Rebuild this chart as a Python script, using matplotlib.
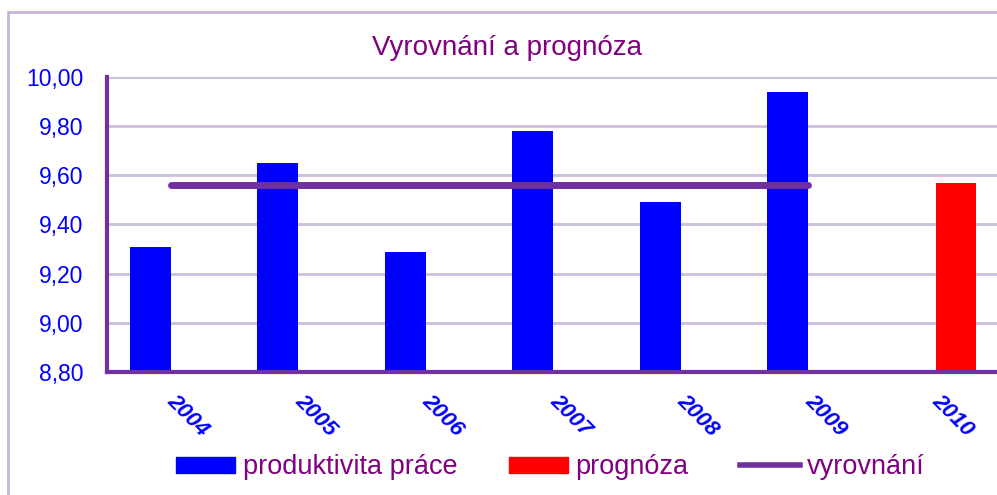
import matplotlib.pyplot as plt
import numpy as np
from matplotlib.patches import Patch, Rectangle
from matplotlib.lines import Line2D

roky = ['2004', '2005', '2006', '2007', '2008', '2009', '2010']
produktivita = [9.31, 9.65, 9.29, 9.78, 9.49, 9.94, None]
prognoza = [None, None, None, None, None, None, 9.57]
vyrovnani = [9.56, 9.56, 9.56, 9.56, 9.56, 9.56, None]
y_ticks = [8.80, 9.00, 9.20, 9.40, 9.60, 9.80, 10.00]

BLUE = '#0000ff'
RED = '#ff0000'
PURPLE = '#7030a0'
TEXT_PURPLE = '#800080'
GRID = '#cbbfdc'


def main() -> None:
    plt.rcParams['font.family'] = ['Liberation Sans', 'DejaVu Sans']
    fig = plt.figure(figsize=(9.97, 4.95), dpi=100)
    ax = fig.add_axes([0.1073, 0.2485, 0.895, 0.596])

    # ramecek kolem grafu
    fig.patches.append(Rectangle((8 / 997, -0.1), 1.2, (495 - 12) / 495 + 0.1,
                                 transform=fig.transFigure, fill=False,
                                 edgecolor='#c4b4d6', lw=2))

    x = np.arange(len(roky))
    w = 0.32
    px = [i for i, v in enumerate(produktivita) if v is not None]
    ax.bar(x[px] - w / 2, [produktivita[i] - 8.8 for i in px], width=w,
           bottom=8.8, color=BLUE, zorder=3)
    pr = [i for i, v in enumerate(prognoza) if v is not None]
    ax.bar(x[pr] + w / 2, [prognoza[i] - 8.8 for i in pr], width=w,
           bottom=8.8, color=RED, zorder=3)
    vx = [i for i, v in enumerate(vyrovnani) if v is not None]
    ax.plot(x[vx], [vyrovnani[i] for i in vx], color=PURPLE, lw=5,
            solid_capstyle='round', zorder=4)

    ax.set_xlim(-0.5, 6.5)
    ax.set_ylim(8.8, 10.0)
    ax.set_yticks(y_ticks)
    ax.set_yticklabels([f'{v:.2f}'.replace('.', ',') for v in y_ticks],
                       color=BLUE, fontsize=16.5)
    ax.set_xticks(x)
    ax.set_xticklabels(roky, rotation=-45, ha='left', va='center',
                       rotation_mode='anchor', color=BLUE, fontsize=16,
                       fontweight='bold', fontstyle='italic')
    ax.tick_params(axis='y', length=0, pad=17)
    ax.tick_params(axis='x', length=0, pad=19)
    ax.grid(axis='y', color=GRID, lw=2, zorder=0)
    ax.set_axisbelow(True)
    for s in ['top', 'right']:
        ax.spines[s].set_visible(False)
    ax.spines['left'].set_color(PURPLE)
    ax.spines['left'].set_linewidth(3)
    ax.spines['bottom'].set_color(PURPLE)
    ax.spines['bottom'].set_linewidth(3)
    ax.spines['bottom'].set_zorder(5)

    fig.text(0.509, 0.903, 'Vyrovnání a prognóza', color=TEXT_PURPLE,
             fontsize=20, ha='center', va='center')

    handles = [Patch(color=BLUE), Patch(color=RED),
               Line2D([], [], color=PURPLE, lw=4)]
    fig.legend(handles, ['produktivita práce', 'prognóza', 'vyrovnání'],
               loc='center', bbox_to_anchor=(0.552, 0.056), ncol=3,
               frameon=False, fontsize=19.5, labelcolor=TEXT_PURPLE,
               handlelength=2.2, handleheight=0.55, handletextpad=0.27,
               columnspacing=1.9)

    fig.savefig('out.png', dpi=100)


if __name__ == '__main__':
    main()
